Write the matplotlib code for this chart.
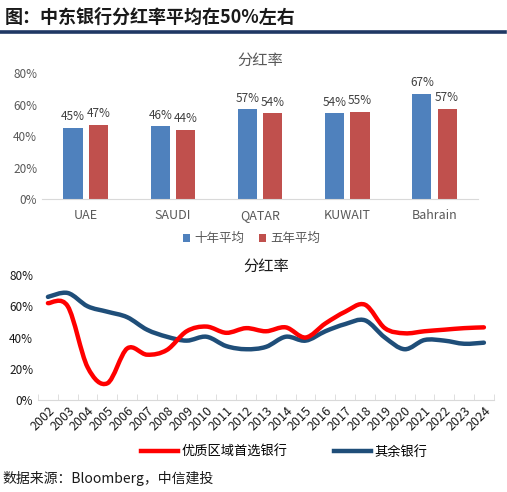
import numpy as np
import matplotlib
matplotlib.use('Agg')
import matplotlib.pyplot as plt
from matplotlib.path import Path
from matplotlib.patches import PathPatch
from matplotlib.lines import Line2D
from matplotlib.ticker import PercentFormatter, FixedLocator

plt.rcParams['font.family'] = ['Noto Sans CJK SC', 'DejaVu Sans']

# ── data ──────────────────────────────────────────────
regions = ['UAE', 'SAUDI', 'QATAR', 'KUWAIT', 'Bahrain']
avg_10y = [0.454, 0.462, 0.570, 0.544, 0.670]
avg_5y = [0.470, 0.440, 0.544, 0.552, 0.574]

years = [str(y) for y in range(2002, 2025)]
top_banks = [0.620, 0.600, 0.210, 0.107, 0.330, 0.290, 0.320, 0.440, 0.470,
             0.430, 0.460, 0.440, 0.465, 0.400, 0.490, 0.565, 0.610, 0.460,
             0.427, 0.440, 0.450, 0.460, 0.465]
other_banks = [0.660, 0.685, 0.600, 0.565, 0.530, 0.450, 0.405, 0.380, 0.405,
               0.345, 0.325, 0.340, 0.405, 0.380, 0.440, 0.486, 0.510, 0.400,
               0.325, 0.384, 0.380, 0.360, 0.367]

BLUE, RED = '#4F81BD', '#C0504D'
LRED, LBLUE = '#FF0000', '#1F4E79'
GRAY = '#D9D9D9'


def smooth_path(x, y, t=1/6):
    # Excel-style smoothed line: cubic bezier through each point
    x = np.asarray(x, float)
    y = np.asarray(y, float)
    px = np.concatenate([[x[0]], x, [x[-1]]])
    py = np.concatenate([[y[0]], y, [y[-1]]])
    verts = [(x[0], y[0])]
    codes = [Path.MOVETO]
    for i in range(len(x) - 1):
        c1 = (x[i] + (px[i + 2] - px[i]) * t, y[i] + (py[i + 2] - py[i]) * t)
        c2 = (x[i + 1] - (px[i + 3] - px[i + 1]) * t, y[i + 1] - (py[i + 3] - py[i + 1]) * t)
        verts += [c1, c2, (x[i + 1], y[i + 1])]
        codes += [Path.CURVE4] * 3
    return Path(verts, codes)


fig = plt.figure(figsize=(5.07, 4.92), dpi=100)

# header
fig.text(0.01, 0.965, '图：中东银行分红率平均在50%左右', fontsize=13, fontweight='bold',
         color='#1a1a1a', va='center', ha='left')
fig.add_artist(Line2D([0, 0.996], [1 - 31.5 / 492] * 2, color='#1F3864', lw=2.6))

# ── top: bar chart ────────────────────────────────────
ax1 = fig.add_axes([0.083, 0.5955, 0.86, 0.256])
x = np.arange(len(regions))
w = 0.22
b1 = ax1.bar(x - 0.145, avg_10y, w, color=BLUE, label='十年平均')
b2 = ax1.bar(x + 0.145, avg_5y, w, color=RED, label='五年平均')
for bars in (b1, b2):
    for r in bars:
        ax1.text(r.get_x() + r.get_width() / 2, r.get_height() + 0.03,
                 f'{r.get_height():.0%}', ha='center', va='bottom',
                 fontsize=8.5, color='#404040')
ax1.set_ylim(0, 0.8)
ax1.set_xlim(-0.5, len(regions) - 0.5)
ax1.yaxis.set_major_locator(FixedLocator([0, 0.2, 0.4, 0.6, 0.8]))
ax1.yaxis.set_major_formatter(PercentFormatter(1.0, decimals=0))
ax1.set_xticks(x)
ax1.set_xticklabels(regions)
ax1.tick_params(axis='both', length=0, labelsize=8.5, colors='#595959')
ax1.tick_params(axis='x', pad=7, labelsize=9)
for s in ['top', 'right', 'left']:
    ax1.spines[s].set_visible(False)
ax1.spines['bottom'].set_color(GRAY)
ax1.set_title('分红率', fontsize=11, color='#595959', pad=6)
ax1.legend(loc='upper center', bbox_to_anchor=(0.48, -0.175), ncol=2, frameon=False,
           fontsize=9, handlelength=0.6, handleheight=0.6, handletextpad=0.3,
           columnspacing=1.2, labelcolor='#595959')

# ── bottom: smoothed lines ────────────────────────────
ax2 = fig.add_axes([0.075, 0.187, 0.899, 0.254])
xi = np.arange(len(years))
ax2.add_patch(PathPatch(smooth_path(xi, top_banks), fill=False, edgecolor=LRED,
                        lw=3.2, capstyle='round', joinstyle='round', zorder=3))
ax2.add_patch(PathPatch(smooth_path(xi, other_banks), fill=False, edgecolor=LBLUE,
                        lw=3.2, capstyle='round', joinstyle='round', zorder=2))
ax2.set_xlim(-0.5, len(years) - 0.5)
ax2.set_ylim(0, 0.8)
ax2.yaxis.set_major_locator(FixedLocator([0, 0.2, 0.4, 0.6, 0.8]))
ax2.yaxis.set_major_formatter(PercentFormatter(1.0, decimals=0))
ax2.set_xticks(xi)
ax2.set_xticklabels(years, rotation=45, ha='right', rotation_mode='anchor')
ax2.set_xticks(np.arange(-0.5, len(years)), minor=True)
ax2.tick_params(axis='x', which='major', length=0, labelsize=9, colors='#1a1a1a', pad=3)
ax2.tick_params(axis='x', which='minor', length=4, direction='in', color=GRAY)
ax2.tick_params(axis='y', length=0, labelsize=8.5, colors='#1a1a1a')
for s in ['top', 'right', 'left']:
    ax2.spines[s].set_visible(False)
ax2.spines['bottom'].set_color(GRAY)
ax2.set_title('分红率', fontsize=11, color='#1a1a1a', pad=-4)
handles = [Line2D([], [], color=LRED, lw=3.2), Line2D([], [], color=LBLUE, lw=3.2)]
ax2.legend(handles, ['优质区域首选银行', '其余银行'], loc='center',
           bbox_to_anchor=(0.54, -0.42), ncol=2, frameon=False, fontsize=9.5,
           handlelength=2.8, handletextpad=0.3, columnspacing=3.5)

fig.text(0.005, 0.028, '数据来源：Bloomberg，中信建投', fontsize=10, color='#1a1a1a',
         va='center', ha='left')

fig.savefig('out.png', dpi=100)
